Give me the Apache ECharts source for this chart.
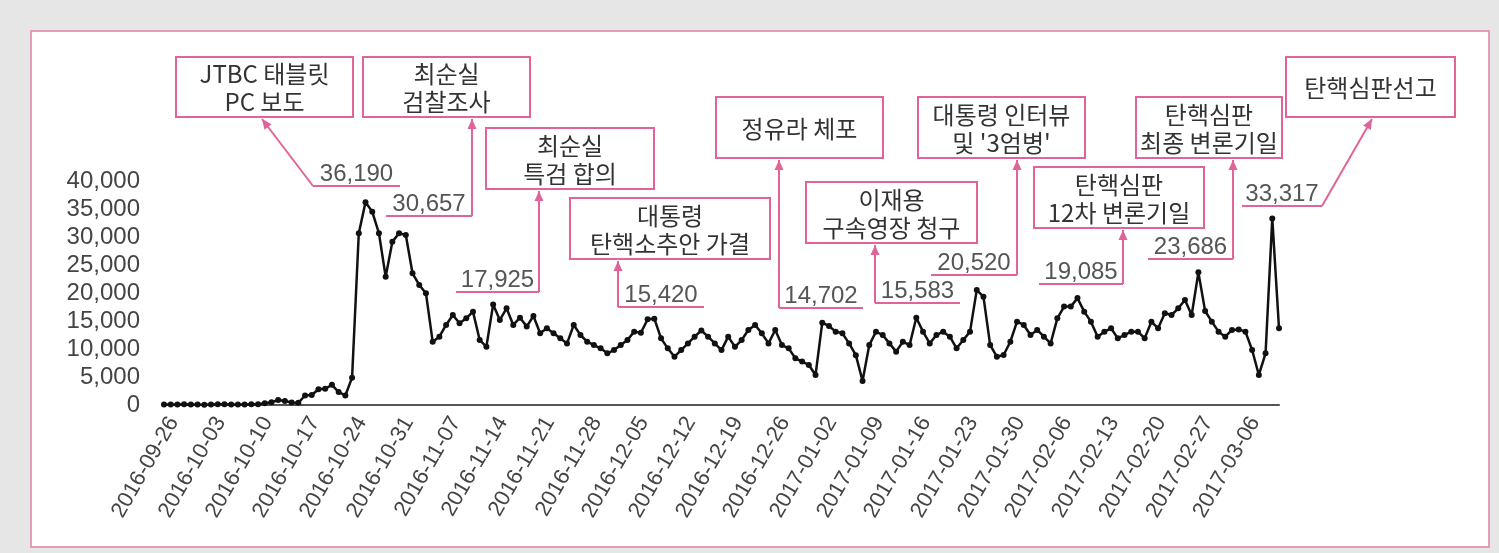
<!DOCTYPE html>
<html>
<head>
<meta charset="utf-8">
<script src="https://cdn.jsdelivr.net/npm/echarts@6/dist/echarts.min.js"></script>
<style>
  html, body { margin:0; padding:0; background:#e6e6e6; }
  #wrap { position:relative; width:1499px; height:553px; overflow:hidden; }
  #frame { position:absolute; left:30px; top:30px; width:1456px; height:514px; background:#fff; border:2px solid #e79bbb; }
  #main { position:absolute; left:0; top:0; width:1499px; height:553px; }
</style>
</head>
<body>
<div id="wrap"><div id="frame"></div><div id="main"></div></div>
<script>
// ---- data ----
const categories = [
 '2016-09-26','2016-09-27','2016-09-28','2016-09-29','2016-09-30',
 '2016-10-01','2016-10-02','2016-10-03','2016-10-04','2016-10-05','2016-10-06','2016-10-07','2016-10-08','2016-10-09','2016-10-10',
 '2016-10-11','2016-10-12','2016-10-13','2016-10-14','2016-10-15','2016-10-16','2016-10-17','2016-10-18','2016-10-19','2016-10-20',
 '2016-10-21','2016-10-22','2016-10-23','2016-10-24','2016-10-25','2016-10-26','2016-10-27','2016-10-28','2016-10-29','2016-10-30','2016-10-31',
 '2016-11-01','2016-11-02','2016-11-03','2016-11-04','2016-11-05','2016-11-06','2016-11-07','2016-11-08','2016-11-09','2016-11-10',
 '2016-11-11','2016-11-12','2016-11-13','2016-11-14','2016-11-15','2016-11-16','2016-11-17','2016-11-18','2016-11-19','2016-11-20',
 '2016-11-21','2016-11-22','2016-11-23','2016-11-24','2016-11-25','2016-11-26','2016-11-27','2016-11-28','2016-11-29','2016-11-30',
 '2016-12-01','2016-12-02','2016-12-03','2016-12-04','2016-12-05','2016-12-06','2016-12-07','2016-12-08','2016-12-09','2016-12-10',
 '2016-12-11','2016-12-12','2016-12-13','2016-12-14','2016-12-15','2016-12-16','2016-12-17','2016-12-18','2016-12-19','2016-12-20',
 '2016-12-21','2016-12-22','2016-12-23','2016-12-24','2016-12-25','2016-12-26','2016-12-27','2016-12-28','2016-12-29','2016-12-30','2016-12-31',
 '2017-01-01','2017-01-02','2017-01-03','2017-01-04','2017-01-05','2017-01-06','2017-01-07','2017-01-08','2017-01-09','2017-01-10',
 '2017-01-11','2017-01-12','2017-01-13','2017-01-14','2017-01-15','2017-01-16','2017-01-17','2017-01-18','2017-01-19','2017-01-20',
 '2017-01-21','2017-01-22','2017-01-23','2017-01-24','2017-01-25','2017-01-26','2017-01-27','2017-01-28','2017-01-29','2017-01-30','2017-01-31',
 '2017-02-01','2017-02-02','2017-02-03','2017-02-04','2017-02-05','2017-02-06','2017-02-07','2017-02-08','2017-02-09','2017-02-10',
 '2017-02-11','2017-02-12','2017-02-13','2017-02-14','2017-02-15','2017-02-16','2017-02-17','2017-02-18','2017-02-19','2017-02-20',
 '2017-02-21','2017-02-22','2017-02-23','2017-02-24','2017-02-25','2017-02-26','2017-02-27','2017-02-28',
 '2017-03-01','2017-03-02','2017-03-03','2017-03-04','2017-03-05','2017-03-06','2017-03-07','2017-03-08','2017-03-09','2017-03-10','2017-03-11'
];
const values = [
 100,80,90,120,100,
 70,60,110,130,120,90,80,70,120,150,
 300,500,900,700,450,400,1700,1800,2800,2900,
 3600,2300,1700,4880,30670,36190,34530,30670,22920,29170,30657,
 30360,23520,21430,19940,11310,12200,14290,16070,14590,15480,
 16670,11600,10420,17925,15200,17270,14300,15600,14000,15900,
 12800,13700,12800,11900,11000,14290,12500,11300,10700,10120,
 9230,9800,10700,11600,13100,12900,15300,15420,11900,10120,
 8630,9800,11000,12200,13300,12200,11000,9800,12200,10400,
 11600,13400,14290,12800,11000,13400,10700,10120,8340,7750,7150,
 5360,14702,14100,13100,12800,11000,8900,4300,10700,13100,
 12500,11000,9530,11300,10700,15583,13100,11000,12500,13100,
 12200,10120,11600,13100,20520,19350,10700,8630,8930,11300,14880,
 14290,12500,13400,12200,11000,15480,17570,17570,19085,16670,
 14880,12200,13100,13700,11900,12500,13100,13100,11900,14880,
 13700,16370,16070,17270,18750,16070,23686,16790,
 14880,13100,12200,13400,13500,13100,9820,5360,9230,33317,13700
];
const yMin = 0, yMax = 40000, yStep = 5000;
const annoDates = ['2016-10-26','2016-10-31','2016-11-14','2016-12-08','2017-01-02','2017-01-16','2017-01-25','2017-02-09','2017-02-27','2017-03-10'];
const annoTexts = ['JTBC 태블릿\nPC 보도','최순실\n검찰조사','최순실\n특검 합의','대통령\n탄핵소추안 가결','정유라 체포','이재용\n구속영장 청구',"대통령 인터뷰\n및 '3엄병'",'탄핵심판\n12차 변론기일','탄핵심판\n최종 변론기일','탄핵심판선고'];

// ---- annotation layout (decoration only) ----
const annoLayout = [
 {box:[176,57,177,60], ul:[313,400,186], conn:[[313,186],[262,119]]},
 {box:[363,57,167,60], ul:[386,472,216], conn:[[472,216],[472,119]]},
 {box:[486,128,168,61], ul:[456,539,292], conn:[[539,292],[539,191]]},
 {box:[570,198,200,61], ul:[618,704,307], conn:[[618,307],[618,261]]},
 {box:[716,97,167,61], ul:[779,863,308], conn:[[779,308],[779,160]]},
 {box:[806,182,171,61], ul:[875,960,303], conn:[[875,303],[875,245]]},
 {box:[918,97,167,61], ul:[931,1017,275], conn:[[1017,275],[1017,160]]},
 {box:[1034,167,170,61], ul:[1039,1123,284], conn:[[1123,284],[1123,230]]},
 {box:[1136,97,146,61], ul:[1148,1233,259], conn:[[1233,259],[1233,160]]},
 {box:[1286,57,169,60], ul:[1242,1322,206], conn:[[1322,206],[1372,119]]}
];
const PINK = '#e0649a';
const fmt = v => Number(v).toLocaleString('en-US');

const graphics = [];
annoLayout.forEach((a, i) => {
  const [bx, by, bw, bh] = a.box;
  graphics.push({type:'rect', shape:{x:bx, y:by, width:bw, height:bh}, style:{fill:'#fff', stroke:PINK, lineWidth:2}, z:10});
  graphics.push({type:'text', x:bx + bw/2, y:by + bh/2 + 1, z:11,
    style:{text:annoTexts[i], fill:'#333', fontSize:24, lineHeight:28, fontFamily:'"Noto Sans CJK KR", sans-serif', align:'center', verticalAlign:'middle'}});
  const [x1, x2, uy] = a.ul;
  graphics.push({type:'line', shape:{x1:x1, y1:uy, x2:x2, y2:uy}, style:{stroke:PINK, lineWidth:2}, z:10});
  const idx = categories.indexOf(annoDates[i]);
  graphics.push({type:'text', x:(x1 + x2)/2, y:uy - 12, z:11,
    style:{text:fmt(values[idx]), fill:'#555', fontSize:24, fontFamily:'"Liberation Sans", Arial, sans-serif', align:'center', verticalAlign:'middle'}});
  const p0 = a.conn[0], p1 = a.conn[1];
  graphics.push({type:'line', shape:{x1:p0[0], y1:p0[1], x2:p1[0], y2:p1[1]}, style:{stroke:PINK, lineWidth:2}, z:10});
  const dx = p1[0]-p0[0], dy = p1[1]-p0[1], L = Math.hypot(dx, dy);
  const ux = dx/L, uyv = dy/L, nx = -uyv, ny = ux, len = 10, hw = 4.5;
  const bxp = p1[0] - ux*len, byp = p1[1] - uyv*len;
  graphics.push({type:'polygon', z:12, shape:{points:[[p1[0],p1[1]],[bxp+nx*hw, byp+ny*hw],[bxp-nx*hw, byp-ny*hw]]}, style:{fill:PINK}});
});

const chart = echarts.init(document.getElementById('main'), null, {renderer:'canvas'});
chart.setOption({
  backgroundColor:'transparent',
  animation:false,
  grid:{left:164, right:220, top:181, bottom:148},
  xAxis:{
    type:'category', data:categories, boundaryGap:false,
    axisLine:{show:true, lineStyle:{color:'#555', width:2}},
    axisTick:{show:false},
    axisLabel:{interval:6, rotate:60, margin:8, verticalAlign:'top', color:'#444', fontSize:22, fontFamily:'"Liberation Sans", Arial, sans-serif'}
  },
  yAxis:{
    type:'value', min:yMin, max:yMax, interval:yStep,
    axisLine:{show:false}, axisTick:{show:false}, splitLine:{show:false},
    axisLabel:{margin:24, color:'#444', fontSize:24, fontFamily:'"Liberation Sans", Arial, sans-serif', formatter:v => fmt(v)}
  },
  series:[{
    type:'line', data:values, symbol:'circle', symbolSize:6, showSymbol:true, showAllSymbol:true,
    lineStyle:{color:'#111', width:2.5}, itemStyle:{color:'#111'}, z:5
  }],
  graphic:graphics
});
</script>
</body>
</html>
